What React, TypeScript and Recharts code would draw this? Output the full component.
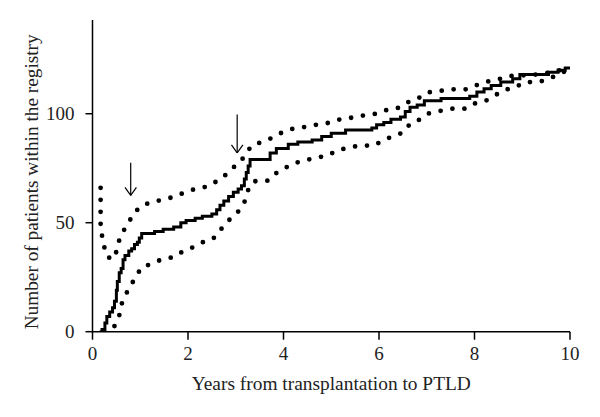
import { Line, LineChart, ReferenceLine, XAxis, YAxis } from "recharts";

// cumulative count (step curve)
const stepYears = [
  0.15, 0.2, 0.26, 0.3, 0.36, 0.42, 0.46, 0.5, 0.52, 0.56, 0.6, 0.64, 0.68, 0.76, 0.82, 0.88, 0.94, 0.98,
  1.03, 1.3, 1.48, 1.7, 1.85, 1.96, 2.15, 2.3, 2.5, 2.6, 2.67, 2.75, 2.85, 2.95, 3.05, 3.12, 3.18, 3.22,
  3.26, 3.3, 3.72, 3.85, 4.1, 4.3, 4.6, 4.8, 5.0, 5.3, 5.85, 5.95, 6.1, 6.25, 6.45, 6.55, 6.65, 6.8, 6.95,
  7.3, 7.9, 8.05, 8.2, 8.35, 8.55, 8.8, 8.95, 9.55, 9.75, 9.9, 10,
];
const stepCounts = [
  0, 1, 4, 7, 9, 11, 14, 19, 23, 27, 29, 33, 35, 37, 38, 40, 41, 43,
  45, 46, 47, 48, 50, 51, 52, 53, 54, 56, 58, 60, 62, 64, 65.5, 67, 70, 73,
  76, 79, 82, 84, 86, 87, 88, 89.5, 91, 92.5, 93.5, 95, 96, 97.5, 98.5, 101, 103, 104, 106,
  107, 108, 110, 111.5, 113, 114.5, 116, 118, 119, 120, 121, 121,
];

// upper confidence band
const upperYears = [
  0.17, 0.17, 0.24, 0.27, 0.4, 0.51, 0.56, 0.65, 0.77, 0.87, 1.03, 1.24, 1.48, 1.73, 1.94, 2.15, 2.41,
  2.6, 2.77, 2.92, 3.08, 3.2, 3.33, 3.54, 3.77, 3.96, 4.17, 4.41, 4.7, 4.94, 5.18, 5.43, 5.67, 5.95,
  6.16, 6.43, 6.61, 6.81, 7.0, 7.26, 7.51, 7.82, 8.03, 8.26, 8.5, 8.73, 9.02, 9.3, 9.6, 10,
];
const upperCounts = [
  66, 47, 40, 35.5, 33, 37, 42, 46.3, 50.6, 54.5, 57.8, 59.5, 60.6, 62, 64, 65.5, 66.6,
  69, 71.6, 74.8, 77.6, 81, 85.4, 87, 89, 91.3, 93, 93.8, 95, 95.8, 97.4, 98.2, 99.2, 100,
  101.7, 102.8, 105.3, 106.9, 109.7, 110.4, 111.2, 111.2, 113, 114.7, 115.8, 117.3, 117.6, 118, 119, 121,
];

// lower confidence band
const lowerYears = [
  0.46, 0.56, 0.61, 0.7, 0.81, 0.91, 1.03, 1.24, 1.46, 1.71, 1.89, 2.09, 2.3, 2.52, 2.66, 2.79, 2.95,
  3.09, 3.2, 3.26, 3.38, 3.68, 3.82, 4.0, 4.2, 4.43, 4.68, 4.93, 5.11, 5.36, 5.6, 5.9, 6.09, 6.3, 6.52,
  6.65, 6.86, 7.02, 7.26, 7.51, 7.82, 8.01, 8.24, 8.43, 8.62, 8.85, 9.04, 9.34, 9.57, 9.8, 10,
];
const lowerCounts = [
  2.6, 7.4, 12.7, 17.2, 21.5, 25.3, 29.6, 31.1, 33.3, 34.2, 36.8, 38.6, 41, 42.5, 46, 50, 52.8,
  56, 60.3, 65, 69, 69.3, 72.4, 74.7, 77.1, 78.5, 79.8, 80.8, 83.1, 84.4, 85.4, 85.4, 87.9, 89.7, 91.5,
  95.4, 97.4, 100, 101.2, 102.3, 102.3, 104.7, 106, 108.4, 110.9, 112, 114.5, 114.5, 116.1, 118.5, 120.5,
];

// arrows: [year, tip count, tail count]
const arrows = [
  [0.8, 62.5, 77.5],
  [3.03, 82, 99.7],
];

const xTicks = [0, 2, 4, 6, 8, 10];
const yTicks = [0, 50, 100];

const zip = (xs: number[], ys: number[]) => xs.map((x, i) => ({ x, y: ys[i] }));

const FONT = '"Liberation Serif", "DejaVu Serif", serif';
const tickStyle = { fontSize: 19, fill: "#222", fontFamily: FONT };

function XLabel({ viewBox }: any) {
  const { x, y, width } = viewBox;
  return (
    <text x={x + width / 2} y={y + 58} textAnchor="middle" fontSize={19.4} fontFamily={FONT} fill="#222">
      Years from transplantation to PTLD
    </text>
  );
}

function YLabel({ viewBox }: any) {
  const { x, y, height } = viewBox;
  const cx = x + 32;
  const cy = y + height / 2 + 6;
  return (
    <text
      x={cx}
      y={cy}
      transform={`rotate(-90 ${cx} ${cy})`}
      textAnchor="middle"
      dominantBaseline="central"
      fontSize={19.3}
      fontFamily={FONT}
      fill="#222"
    >
      Number of patients within the registry
    </text>
  );
}

export default function App() {
  const headDx = 0.12;
  const headDy = 3.7;
  return (
    <div style={{ position: "absolute", left: 0, top: 0, background: "#fff" }}>
      <LineChart width={600} height={417} margin={{ top: 20, right: 30, bottom: 0, left: 0 }}>
        <XAxis
          type="number"
          dataKey="x"
          domain={[0, 10]}
          ticks={xTicks}
          allowDataOverflow
          height={85.3}
          stroke="#000"
          strokeWidth={1.5}
          tickSize={8}
          tickMargin={7}
          tick={tickStyle}
          label={<XLabel />}
        />
        <YAxis
          type="number"
          domain={[0, 143]}
          ticks={yTicks}
          allowDataOverflow
          width={92.5}
          stroke="#000"
          strokeWidth={1.5}
          tickSize={7}
          tickMargin={11}
          tick={tickStyle}
          label={<YLabel />}
        />
        <Line
          data={zip(upperYears, upperCounts)}
          dataKey="y"
          type="linear"
          stroke="#000"
          strokeWidth={4.8}
          strokeLinecap="round"
          strokeDasharray="0 12"
          dot={false}
          isAnimationActive={false}
        />
        <Line
          data={zip(lowerYears, lowerCounts)}
          dataKey="y"
          type="linear"
          stroke="#000"
          strokeWidth={4.8}
          strokeLinecap="round"
          strokeDasharray="0 12"
          dot={false}
          isAnimationActive={false}
        />
        <Line
          data={zip(stepYears, stepCounts)}
          dataKey="y"
          type="stepAfter"
          stroke="#000"
          strokeWidth={3}
          dot={false}
          isAnimationActive={false}
        />
        {arrows.map(([ax, tip, tail], i) => (
          <ReferenceLine
            key={`s${i}`}
            segment={[{ x: ax, y: tail }, { x: ax, y: tip }]}
            stroke="#000"
            strokeWidth={1.2}
            ifOverflow="visible"
          />
        ))}
        {arrows.map(([ax, tip], i) => (
          <ReferenceLine
            key={`l${i}`}
            segment={[{ x: ax - headDx, y: tip + headDy }, { x: ax, y: tip }]}
            stroke="#000"
            strokeWidth={1.2}
            ifOverflow="visible"
          />
        ))}
        {arrows.map(([ax, tip], i) => (
          <ReferenceLine
            key={`r${i}`}
            segment={[{ x: ax + headDx, y: tip + headDy }, { x: ax, y: tip }]}
            stroke="#000"
            strokeWidth={1.2}
            ifOverflow="visible"
          />
        ))}
      </LineChart>
    </div>
  );
}
